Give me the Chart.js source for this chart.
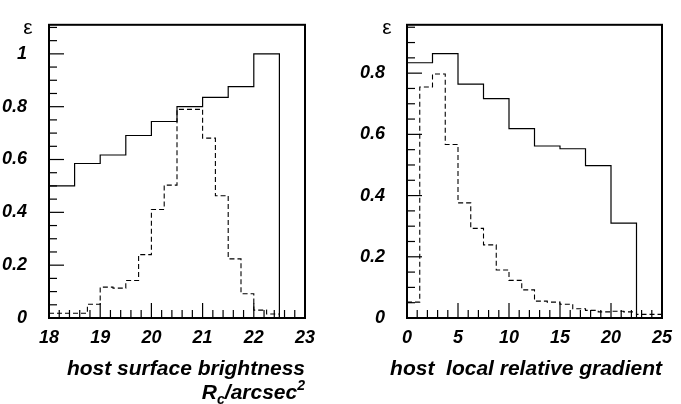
<!DOCTYPE html>
<html><head><meta charset="utf-8">
<script src="https://cdn.jsdelivr.net/npm/chart.js@4.4.0/dist/chart.umd.min.js"></script>
<style>
html,body{margin:0;padding:0;background:#fff;}
#wrap{position:relative;width:681px;height:404px;overflow:hidden;background:#fff}
canvas{position:absolute;top:0}
#c1{left:0}
#c2{left:340px}
</style></head><body>
<div id="wrap">
<canvas id="c1" width="340" height="404"></canvas>
<canvas id="c2" width="341" height="404"></canvas>
</div>
<script>
// ---- data ----
const leftEdgesSolid = [18, 18.5, 19, 19.5, 20, 20.5, 21, 21.5, 22, 22.5];
const leftSolid = [0.50, 0.585, 0.617, 0.691, 0.744, 0.80, 0.835, 0.876, 1.0];
const leftEdgesDashed = [18, 18.25, 18.5, 18.75, 19, 19.25, 19.5, 19.75, 20, 20.25, 20.5, 20.75, 21, 21.25, 21.5, 21.75, 22, 22.25, 22.5];
const leftDashed = [0.018, 0.018, 0.018, 0.052, 0.117, 0.113, 0.142, 0.24, 0.411, 0.503, 0.79, 0.79, 0.681, 0.463, 0.224, 0.092, 0.03, 0.015];
const leftXTicks = [18, 19, 20, 21, 22, 23];
const leftYTicks = [0, 0.2, 0.4, 0.6, 0.8, 1];

const rightEdgesSolid = [0, 2.5, 5, 7.5, 10, 12.5, 15, 17.5, 20, 22.5];
const rightSolid = [0.834, 0.864, 0.764, 0.717, 0.619, 0.562, 0.553, 0.498, 0.31];
const rightEdgesDashed = [0, 1.25, 2.5, 3.75, 5, 6.25, 7.5, 8.75, 10, 11.25, 12.5, 13.75, 15, 16.25, 17.5, 18.75, 20, 21.25, 22.5, 23.75, 25];
const rightDashed = [0.052, 0.755, 0.797, 0.567, 0.376, 0.293, 0.239, 0.157, 0.123, 0.092, 0.055, 0.052, 0.045, 0.03, 0.025, 0.02, 0.022, 0.02, 0.012, 0.012];
const rightXTicks = [0, 5, 10, 15, 20, 25];
const rightYTicks = [0, 0.2, 0.4, 0.6, 0.8];

const yLabel = 'ε';
const leftTitle = 'host surface brightness';
const rightTitle = 'host  local relative gradient';

// ---- helpers ----
function histPoints(edges, vals, xmax) {
  const pts = [];
  for (let i = 0; i < vals.length; i++) pts.push({x: edges[i], y: vals[i]});
  const last = edges[vals.length];
  pts.push({x: last, y: vals[vals.length - 1]});
  pts.push({x: last, y: 0});
  if (last < xmax) pts.push({x: xmax, y: 0});
  return pts;
}

const FONT = '"Liberation Sans", Arial, Helvetica, sans-serif';

function rootPlugin(cfg) {
  return {
    id: 'rootAxes',
    afterDatasetsDraw(chart) {
      const ctx = chart.ctx, a = chart.chartArea, xs = chart.scales.x, ys = chart.scales.y;
      ctx.save();
      ctx.strokeStyle = '#000';
      ctx.lineWidth = 1.2;
      const nx = Math.round((xs.max - xs.min) / cfg.xMinor);
      for (let i = 0; i <= nx; i++) {
        const v = xs.min + i * cfg.xMinor;
        const r = (v - xs.min) / cfg.xMajor;
        const major = Math.abs(r - Math.round(r)) < 1e-6;
        const px = xs.getPixelForValue(v);
        ctx.beginPath();
        ctx.moveTo(px, a.bottom);
        ctx.lineTo(px, a.bottom - (major ? 15 : 8));
        ctx.stroke();
      }
      const ny = Math.floor((ys.max - ys.min) / cfg.yMinor + 1e-6);
      for (let i = 0; i <= ny; i++) {
        const v = ys.min + i * cfg.yMinor;
        const r = v / cfg.yMajor;
        const major = Math.abs(r - Math.round(r)) < 1e-6;
        const py = ys.getPixelForValue(v);
        ctx.beginPath();
        ctx.moveTo(a.left, py);
        ctx.lineTo(a.left + (major ? 15 : 8), py);
        ctx.stroke();
      }
      ctx.lineWidth = 2;
      ctx.strokeRect(a.left, a.top, a.right - a.left, a.bottom - a.top);
      ctx.fillStyle = '#000';
      ctx.font = '21px ' + FONT;
      ctx.textAlign = 'center';
      ctx.textBaseline = 'middle';
      ctx.fillText(yLabel, a.left - cfg.epsOff, a.top + 3);
      ctx.font = 'italic bold 21px ' + FONT;
      ctx.textAlign = 'right';
      ctx.textBaseline = 'alphabetic';
      ctx.fillText(cfg.title, a.right, 375);
      if (cfg.unit) {
        const big = 'italic bold 21px ' + FONT, small = 'italic bold 14px ' + FONT;
        const parts = [['R', big, 0], ['c', small, 5], ['/arcsec', big, 0], ['2', small, -9]];
        let w = 0;
        parts.forEach(p => { ctx.font = p[1]; w += ctx.measureText(p[0]).width; });
        let x = a.right - w;
        ctx.textAlign = 'left';
        parts.forEach(p => { ctx.font = p[1]; ctx.fillText(p[0], x, 399 + p[2]); x += ctx.measureText(p[0]).width; });
      }
      ctx.restore();
    }
  };
}

function makeChart(id, o) {
  return new Chart(document.getElementById(id), {
    type: 'line',
    data: {
      datasets: [
        {data: histPoints(o.es, o.s, o.xmax), stepped: 'before', borderColor: '#000', borderWidth: 1.2, pointRadius: 0, fill: false},
        {data: histPoints(o.ed, o.d, o.xmax), stepped: 'before', borderColor: '#000', borderWidth: 1.1, borderDash: [5, 3], pointRadius: 0, fill: false}
      ]
    },
    options: {
      responsive: false,
      animation: false,
      events: [],
      layout: {autoPadding: false, padding: {left: 0, top: 13, right: o.padRight, bottom: 0}},
      plugins: {legend: {display: false}, tooltip: {enabled: false}},
      scales: {
        x: {
          type: 'linear', min: o.xmin, max: o.xmax,
          grid: {display: false}, border: {display: false},
          afterFit(s) { s.height = 86; },
          afterBuildTicks(s) { s.ticks = o.xt.map(v => ({value: v})); },
          ticks: {color: '#000', padding: 1, maxRotation: 0, autoSkip: false,
            font: {family: FONT, size: 18, style: 'italic', weight: 'bold'},
            callback: v => String(v)}
        },
        y: {
          type: 'linear', min: 0, max: o.ymax,
          grid: {display: false}, border: {display: false},
          afterFit(s) { s.width = o.yWidth; },
          afterBuildTicks(s) { s.ticks = o.yt.map(v => ({value: v})); },
          ticks: {color: '#000', padding: 14, autoSkip: false,
            font: {family: FONT, size: 18, style: 'italic', weight: 'bold'},
            callback: v => String(v)}
        }
      }
    },
    plugins: [rootPlugin(o.plug)]
  });
}

makeChart('c1', {
  es: leftEdgesSolid, s: leftSolid, ed: leftEdgesDashed, d: leftDashed,
  xmin: 18, xmax: 23, ymax: 1.11, xt: leftXTicks, yt: leftYTicks,
  yWidth: 49, padRight: 35,
  plug: {xMinor: 0.2, xMajor: 1, yMinor: 0.05, yMajor: 0.2, title: leftTitle, unit: true, epsOff: 21}
});
makeChart('c2', {
  es: rightEdgesSolid, s: rightSolid, ed: rightEdgesDashed, d: rightDashed,
  xmin: 0, xmax: 25, ymax: 0.958, xt: rightXTicks, yt: rightYTicks,
  yWidth: 67, padRight: 19,
  plug: {xMinor: 1, xMajor: 5, yMinor: 0.05, yMajor: 0.2, title: rightTitle, unit: false, epsOff: 20}
});
</script>
</body></html>
